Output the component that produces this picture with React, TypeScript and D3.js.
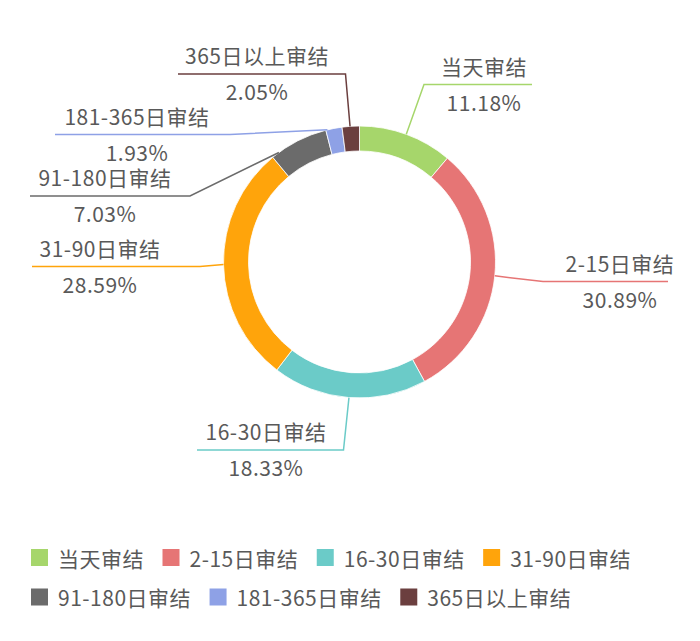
import React from "react";
import * as d3 from "d3";

const categories = ["当天审结", "2-15日审结", "16-30日审结", "31-90日审结", "91-180日审结", "181-365日审结", "365日以上审结"];
const values = [11.18, 30.89, 18.33, 28.59, 7.03, 1.93, 2.05];
const valueLabels = ["11.18%", "30.89%", "18.33%", "28.59%", "7.03%", "1.93%", "2.05%"];
const colors = ["#A6D66B", "#E67575", "#6BCBC8", "#FFA40B", "#6B6B6B", "#8EA1E6", "#6B3F3F"];

// label layout (positions only)
const labelLayout = [
  { textX: 484, lineY: 84.5, endX: 532, elbowX: 424, frac: 0.5 },
  { textX: 620, lineY: 281.5, endX: 668, elbowX: 543, frac: 0.5 },
  { textX: 266, lineY: 450, endX: 197, elbowX: 343.5, frac: 0.5 },
  { textX: 100, lineY: 266.5, endX: 32, elbowX: 200, frac: 0.5 },
  { textX: 105, lineY: 196, endX: 30, elbowX: 190, frac: 0.13 },
  { textX: 137, lineY: 134.5, endX: 55, elbowX: 230, frac: 0.1 },
  { textX: 257, lineY: 74, endX: 178, elbowX: 345.5, frac: 0.46 },
];

const W = 700, H = 641;
const cx = 359.5, cy = 262;
const rOuter = 136, rInner = 111;
const FONT = "'Noto Sans CJK SC', 'Microsoft YaHei', sans-serif";
const FS = 21;
const LS = 0.5;
const TEXT = "#595959";

function measure(text: string): number {
  const c = document.createElement("canvas").getContext("2d");
  if (!c) return text.length * FS * 0.8;
  c.font = `${FS}px 'Noto Sans CJK SC'`;
  return c.measureText(text).width + LS * text.length;
}

export default function App() {
  const pie = d3.pie<number>().sort(null).startAngle(0).endAngle(2 * Math.PI);
  const arcs = pie(values);
  const arcGen = d3.arc<d3.PieArcDatum<number>>().innerRadius(rInner).outerRadius(rOuter);

  // legend layout
  const rows = [[0, 1, 2, 3], [4, 5, 6]];
  const rowY = [557.5, 597];
  const sq = 17, sqGap = 10, itemGap = 18.5, startX = 31;
  const legendItems: { i: number; x: number; y: number }[] = [];
  rows.forEach((row, ri) => {
    let x = startX;
    row.forEach((i) => {
      legendItems.push({ i, x, y: rowY[ri] });
      x += sq + sqGap + measure(categories[i]) + itemGap;
    });
  });

  return (
    <div style={{ position: "absolute", left: 0, top: 0 }}>
      <svg width={W} height={H} style={{ display: "block", background: "#fff" }} fontFamily={FONT}>
        <g transform={`translate(${cx},${cy})`}>
          {arcs.map((a, i) => (
            <path key={i} d={arcGen(a) || ""} fill={colors[i]} stroke="#fff" strokeWidth={0.8} />
          ))}
        </g>
        {arcs.map((a, i) => {
          const L = labelLayout[i];
          const ang = a.startAngle + (a.endAngle - a.startAngle) * L.frac;
          const ax = cx + rOuter * Math.sin(ang);
          const ay = cy - rOuter * Math.cos(ang);
          const line = d3.line()([
            [L.endX, L.lineY],
            [L.elbowX, L.lineY],
            [ax, ay],
          ]);
          return (
            <g key={i}>
              <path d={line || ""} fill="none" stroke={colors[i]} strokeWidth={1.5} />
              <text x={L.textX} y={L.lineY - 19} textAnchor="middle" dominantBaseline="central" fontSize={FS} letterSpacing={LS} fill={TEXT}>
                {categories[i]}
              </text>
              <text x={L.textX} y={L.lineY + 17} textAnchor="middle" dominantBaseline="central" fontSize={FS} letterSpacing={LS} fill={TEXT}>
                {valueLabels[i]}
              </text>
            </g>
          );
        })}
        {legendItems.map(({ i, x, y }) => (
          <g key={i}>
            <rect x={x} y={y - sq / 2} width={sq} height={sq} fill={colors[i]} />
            <text x={x + sq + sqGap} y={y} dominantBaseline="central" fontSize={FS} letterSpacing={LS} fill={TEXT}>
              {categories[i]}
            </text>
          </g>
        ))}
      </svg>
    </div>
  );
}
